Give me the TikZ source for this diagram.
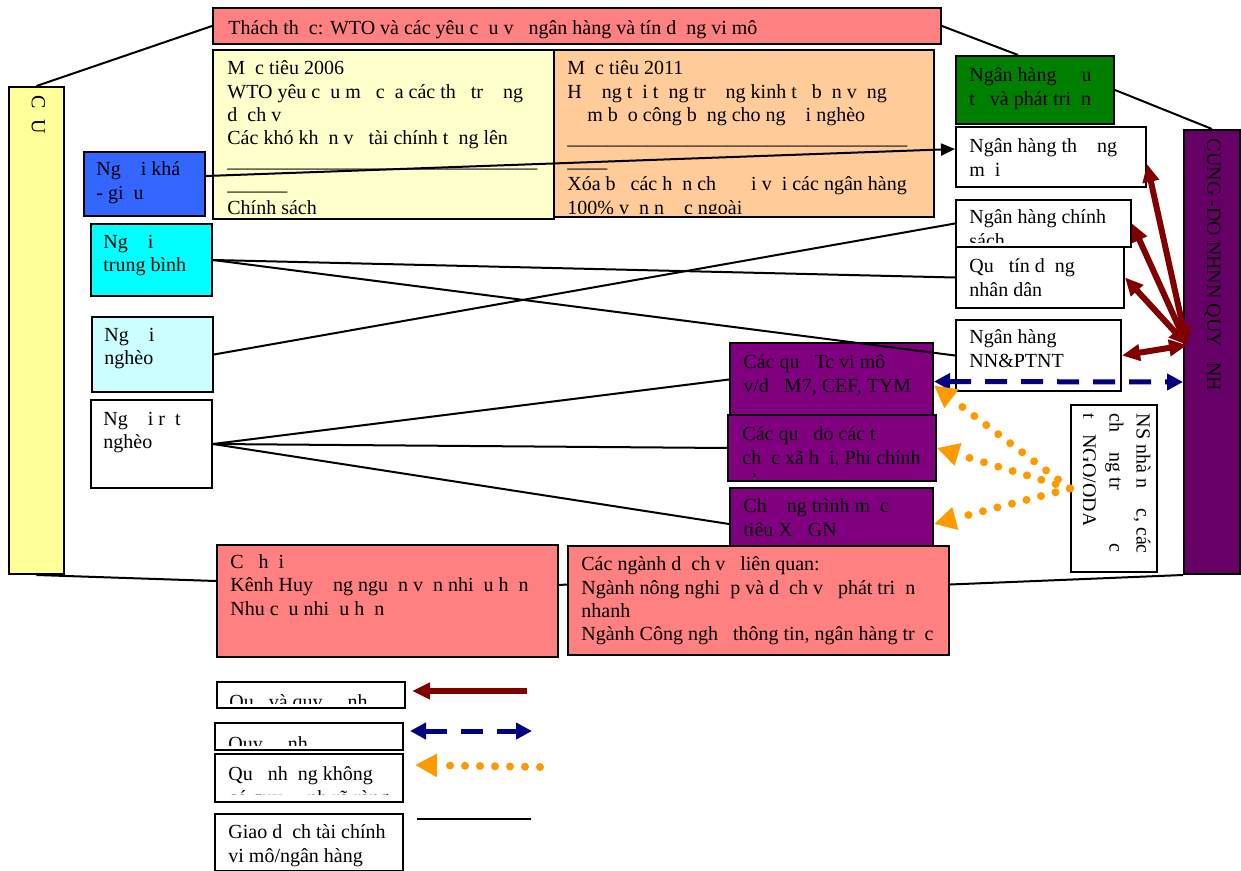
\documentclass[tikz,border=0pt]{standalone}
\usepackage{fontspec}
\setmainfont{Liberation Serif}
\usetikzlibrary{arrows.meta,positioning}

\definecolor{cSalmon}{HTML}{FF8080}
\definecolor{cCream}{HTML}{FFFFCC}
\definecolor{cPeach}{HTML}{FFCC99}
\definecolor{cYellow}{HTML}{FFFF99}
\definecolor{cBlue}{HTML}{3366FF}
\definecolor{cCyan}{HTML}{00FFFF}
\definecolor{cIce}{HTML}{CCFFFF}
\definecolor{cGreen}{HTML}{008000}
\definecolor{cPurple}{HTML}{800080}
\definecolor{cPlum}{HTML}{660066}
\definecolor{cMaroon}{HTML}{800000}
\definecolor{cNavy}{HTML}{000080}
\definecolor{cOrange}{HTML}{FF9900}

\begin{document}
\begin{tikzpicture}[x=0.5pt,y=-0.5pt,
    box/.style={draw, line width=1pt, anchor=north west, inner sep=0pt},
    txt/.style={anchor=north west, inner sep=0pt, align=left, yshift=-1.25pt,
      font=\fontsize{10}{11.6}\selectfont, execute at begin node=\strut},
    link/.style={line width=1pt},
    fundreg/.style={draw=cMaroon, line width=3pt, >={Triangle[length=9pt,width=8pt]}},
    reg/.style={draw=cNavy, line width=2.5pt, dash pattern=on 11pt off 7pt,
      >={Triangle[length=8pt,width=8pt]}},
    fundnoreg/.style={draw=cOrange, line width=4pt, line cap=round,
      dash pattern=on 0pt off 7.5pt, >={Triangle[length=11pt,width=11pt]}},
  ]
  \useasboundingbox (0,0) rectangle (1241,871);

  % Nodes

  \node[box, fill=cYellow, minimum width=27.5pt, minimum height=243.5pt] (demand) at (8,86) {};
  \node[txt, anchor=west, rotate=-90] (demand-t) at ([shift={(0,7)}]demand.north) {C~~U};

  \node[box, fill=cPlum, minimum width=28pt, minimum height=222pt] (supply) at (1183,129) {};
  \node[txt, anchor=west, rotate=-90] (supply-t) at ([shift={(0,7)}]supply.north) {CUNG -DO NHNN QUY~~~NH};

  \node[box, fill=cSalmon, minimum width=364pt, minimum height=18pt] (wto) at (212,7) {};
  \node[txt] (wto-t) at ([shift={(16,8)}]wto.north west)
    {Thách th~~c: WTO và các yêu c~~u v~~ ngân hàng và tín d~~ng vi mô};

  \node[box, fill=cCream, minimum width=170.5pt, minimum height=84.5pt] (goal06) at (212,49) {};
  \node[txt] (goal06-t) at ([shift={(15,9)}]goal06.north west)
    {M~~c tiêu 2006\\WTO yêu c~~u m~~ c~~a các th~~ tr~~~~ng\\d~~ch v~~\\Các khó kh~~n v~~ tài chính t~~ng lên\\
     \_\_\_\_\_\_\_\_\_\_\_\_\_\_\_\_\_\_\_\_\_\_\_\_\_\_\_\_\_\_\_\\\_\_\_\_\_\_\\Chính sách};

  \node[box, fill=cPeach, minimum width=190pt, minimum height=83.5pt] (goal11) at (553,49) {};
  \begin{scope}
    \clip (goal11.north west) rectangle ([yshift=2pt]goal11.south east);
    \node[txt] (goal11-t) at ([shift={(14,9)}]goal11.north west)
      {M~~c tiêu 2011\\H~~~~ng t~~i t~~ng tr~~~~ng kinh t~~ b~~n v~~ng\\~~~~m b~~o công b~~ng cho ng~~~~i nghèo\\
       \_\_\_\_\_\_\_\_\_\_\_\_\_\_\_\_\_\_\_\_\_\_\_\_\_\_\_\_\_\_\_\_\_\_\\\_\_\_\_\\Xóa b~~ các h~~n ch~~ ~~~~i v~~i các ngân hàng\\100\% v~~n n~~~~c ngoài};
  \end{scope}

  \node[box, fill=cBlue, minimum width=60.5pt, minimum height=32pt] (rich) at (83,151) {};
  \node[txt] (rich-t) at ([shift={(13,8)}]rich.north west) {Ng~~~~i khá\\- gi~~u};

  \node[box, fill=cCyan, minimum width=60.5pt, minimum height=36pt] (middle) at (90,223) {};
  \node[txt] (middle-t) at ([shift={(13,9)}]middle.north west) {Ng~~~~i\\trung bình};

  \node[box, fill=cIce, minimum width=60.5pt, minimum height=37.5pt] (poor) at (91,316) {};
  \node[txt] (poor-t) at ([shift={(13,9)}]poor.north west) {Ng~~~~i\\nghèo};

  \node[box, fill=white, minimum width=60.5pt, minimum height=44pt] (vpoor) at (90,399) {};
  \node[txt] (vpoor-t) at ([shift={(13,10)}]vpoor.north west) {Ng~~~~i r~~t\\nghèo};

  \node[box, fill=cGreen, minimum width=79pt, minimum height=34pt] (bidv) at (955,55) {};
  \node[txt] (bidv-t) at ([shift={(14,10)}]bidv.north west) {Ngân hàng ~~~~u\\t~~ và phát tri~~n};

  \node[box, fill=white, minimum width=95pt, minimum height=30pt] (combank) at (955,126) {};
  \node[txt] (combank-t) at ([shift={(14,10)}]combank.north west) {Ngân hàng th~~~~ng\\m~~i};

  \node[box, fill=white, minimum width=87.5pt, minimum height=23.5pt] (polbank) at (955,199) {};
  \begin{scope}
    \clip (polbank.north west) rectangle ([yshift=2.5pt]polbank.south east);
    \node[txt] (polbank-t) at ([shift={(14,8)}]polbank.north west) {Ngân hàng chính\\sách};
  \end{scope}

  \node[box, fill=white, minimum width=84pt, minimum height=30.5pt] (pcf) at (955,246) {};
  \node[txt] (pcf-t) at ([shift={(14,10)}]pcf.north west) {Qu~~ tín d~~ng\\nhân dân};

  \node[box, fill=white, minimum width=82.5pt, minimum height=35.5pt] (agri) at (955,319) {};
  \node[txt] (agri-t) at ([shift={(14,8)}]agri.north west) {Ngân hàng\\NN\&PTNT};

  \node[box, fill=cPurple, minimum width=101.5pt, minimum height=36.5pt] (mfi) at (729,342) {};
  \node[txt] (mfi-t) at ([shift={(14,10)}]mfi.north west) {Các qu~~ Tc vi mô\\v/d ~~M7, CEF, TYM};

  \node[box, fill=cPurple, minimum width=104pt, minimum height=33pt] (ngo) at (727,414) {};
  \begin{scope}
    \clip (ngo.north west) rectangle ([yshift=3pt]ngo.south east);
    \node[txt] (ngo-t) at ([shift={(15,10)}]ngo.north west) {Các qu~~ do các t~~\\ch~~c xã h~~i, Phi chính\\ph~~};
  \end{scope}

  \node[box, fill=cPurple, minimum width=101.5pt, minimum height=30pt] (xdgn) at (729,487) {};
  \node[txt] (xdgn-t) at ([shift={(14,9)}]xdgn.north west) {Ch~~~~ng trình m~~c\\tiêu X~~~GN};

  \node[box, fill=white, minimum width=43pt, minimum height=83.5pt] (budget) at (1070,404) {};
  \begin{scope}
    \clip ([xshift=6.5pt]budget.north west) rectangle (budget.south east);
    \node[txt, rotate=-90, font=\fontsize{10}{13.5}\selectfont] (budget-t) at ([shift={(-7,7)}]budget.north east)
      {NS nhà n~~~~c, các\\ch~~~~ng tr\hspace{27pt}c\\t~~ NGO/ODA};
  \end{scope}

  \node[box, fill=cSalmon, minimum width=170.5pt, minimum height=56pt] (chance) at (216,544) {};
  \node[txt] (chance-t) at ([shift={(14,8)}]chance.north west)
    {C~~ h~~i\\Kênh Huy~~~~ng ngu~~n v~~n nhi~~u h~~n\\Nhu c~~u nhi~~u h~~n};

  \node[box, fill=cSalmon, minimum width=190.5pt, minimum height=54.5pt] (sector) at (567,545) {};
  \node[txt] (sector-t) at ([shift={(14,9)}]sector.north west)
    {Các ngành d~~ch v~~ liên quan:\\Ngành nông nghi~~p và d~~ch v~~ phát tri~~n\\nhanh\\Ngành Công ngh~~ thông tin, ngân hàng tr~~c};

  % Legend

  \node[box, fill=white, minimum width=94pt, minimum height=13pt] (key1) at (216,681) {};
  \begin{scope}
    \clip ([shift={(1,1)}]key1.north west) rectangle ([shift={(-1,-6)}]key1.south east);
    \node[txt] (key1-t) at ([shift={(13,8)}]key1.north west) {Qu~~ và quy ~~~~nh};
  \end{scope}

  \node[box, fill=white, minimum width=94pt, minimum height=13.5pt] (key2) at (214,722) {};
  \begin{scope}
    \clip ([shift={(1,1)}]key2.north west) rectangle ([shift={(-1,-6)}]key2.south east);
    \node[txt] (key2-t) at ([shift={(14,9)}]key2.north west) {Quy ~~~~nh};
  \end{scope}

  \node[box, fill=white, minimum width=94pt, minimum height=24pt] (key3) at (214,753) {};
  \begin{scope}
    \clip ([shift={(1,1)}]key3.north west) rectangle ([shift={(-1,-9)}]key3.south east);
    \node[txt] (key3-t) at ([shift={(14,11)}]key3.north west) {Qu~~ nh~~ng không\\có quy ~~~~nh rõ ràng};
  \end{scope}

  \node[box, fill=white, minimum width=94pt, minimum height=28.5pt] (key4) at (214,813) {};
  \node[txt] (key4-t) at ([shift={(14,9)}]key4.north west) {Giao d~~ch tài chính\\vi mô/ngân hàng};

  \coordinate (k1a) at (527,691);
  \coordinate (k1b) at (412,691);
  \coordinate (k2a) at (410,731);
  \coordinate (k2b) at (532,731);
  \coordinate (k3a) at (540,767);
  \coordinate (k3b) at (415,765);
  \coordinate (k4a) at (417,819);
  \coordinate (k4b) at (531,819);

  \coordinate (hub) at (1187,345);

  % Edges

  \draw[link] (demand.north) -- (wto.west);
  \draw[link] (wto.east) -- ([xshift=-8.5pt]bidv.north);
  \draw[link] (bidv.east) -- (supply.north);
  \draw[link] (demand.south) -- ([yshift=10pt]chance.west);
  \draw[link] ([yshift=8pt]chance.east) -- ([yshift=8pt]sector.west);
  \draw[link] ([yshift=8pt]sector.east) -- (supply.south west);

  \draw[link, -{Triangle[length=7pt,width=6pt]}] ([yshift=4pt]rich.east) -- ([yshift=4pt]combank.west);
  \draw[link] (middle.east) -- (pcf.west);
  \draw[link] (middle.east) -- (agri.west);
  \draw[link] (poor.east) -- (polbank.west);
  \draw[link] (vpoor.east) -- (mfi.west);
  \draw[link] (vpoor.east) -- (ngo.west);
  \draw[link] (vpoor.east) -- ([yshift=-3pt]xdgn.west);

  \draw[fundreg, <->] (hub) -- ([yshift=12pt]combank.south east);
  \draw[fundreg, <->] (hub) -- (polbank.east);
  \draw[fundreg, <->] (hub) -- (pcf.east);
  \draw[fundreg, <->] (hub) -- (agri.east);

  \draw[reg, <->] ([yshift=-1pt]mfi.east) -- ([yshift=-15pt]supply.west);

  \draw[fundnoreg, ->] (budget.west) -- ([yshift=-3pt]mfi.east);
  \draw[fundnoreg, ->] (budget.west) -- (ngo.east);
  \draw[fundnoreg, ->] (budget.west) -- ([yshift=-3pt]xdgn.east);

  % Legend edges

  \draw[fundreg, ->] (k1a) -- (k1b);
  \draw[reg, <->] (k2a) -- (k2b);
  \draw[fundnoreg, ->] (k3a) -- (k3b);
  \draw[link] (k4a) -- (k4b);

\end{tikzpicture}
\end{document}
